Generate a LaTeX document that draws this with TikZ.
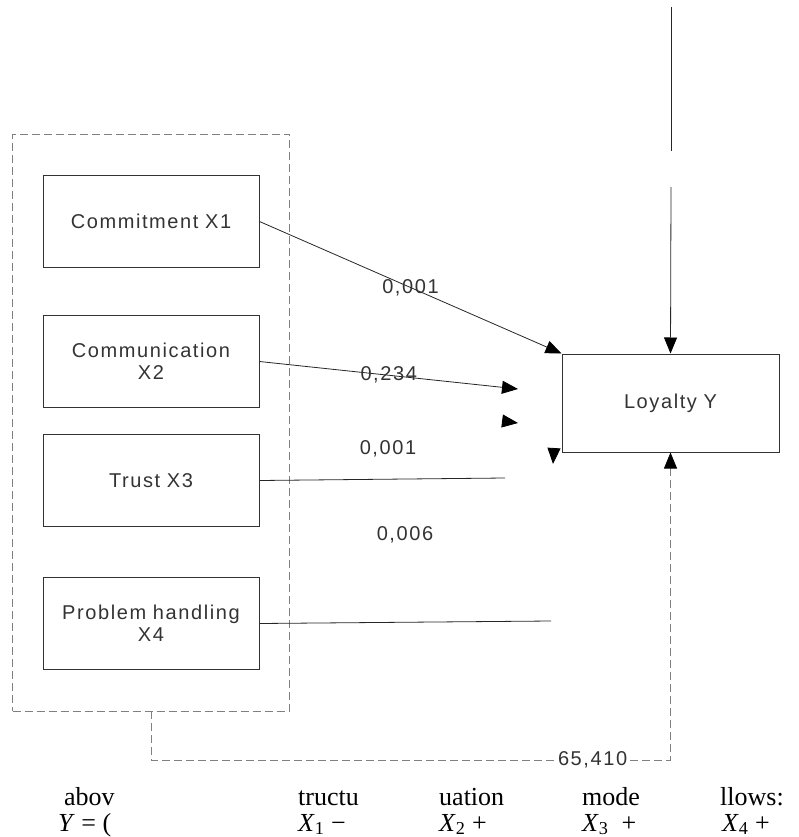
\documentclass[tikz,border=0pt]{standalone}
\usepackage{fontspec}
\setmainfont{Liberation Serif}
\newfontfamily\boxfont[LetterSpace=8]{Liberation Sans}
\usetikzlibrary{arrows.meta, positioning, fit, calc}

\begin{document}
\begin{tikzpicture}[x=1pt, y=-1pt,
    var/.style={draw=black!80, line width=1pt, minimum width=216pt, minimum height=92pt, text width=205pt, align=center, text=black!80, font=\boxfont\fontsize{20}{22}\selectfont},
    coef/.style={text=black!80, font=\boxfont\fontsize{20}{22}\selectfont, inner sep=1pt},
    link/.style={draw=black!85, line width=0.8pt},
    tip/.style={-{Triangle[length=16pt, width=13pt, black]}},
    grp/.style={draw=gray, dash pattern=on 8pt off 4pt, line width=0.8pt},
    frag/.style={font=\fontsize{26}{30}\selectfont, anchor=base west, inner sep=0pt}]
    \useasboundingbox (0,0) rectangle (799,837);

    % independent variables
    \node[var] (com) at (151,221.5) {Commitment X1};
    \node[var, below=47pt of com] (cmu) {Communication\\X2};
    \node[var, below=26pt of cmu] (tru) {Trust X3};
    \node[var, below=50pt of tru] (prb) {Problem handling\\X4};
    \node[grp, fit=(com)(prb), inner xsep=30pt, inner ysep=41pt] (grp) {};

    % dependent variable
    \node[var, minimum width=217pt, minimum height=98pt] (loy) at (670.5,403) {Loyalty Y};

    \coordinate (e2) at (518,389);
    \coordinate (h2a) at (502,421);
    \coordinate (h2b) at (518,423);
    \coordinate (e3) at (505,478);
    \coordinate (h3a) at (554,448);
    \coordinate (h3b) at (553,464);
    \coordinate (e4) at (551,621);
    \coordinate (v1) at (671,7);
    \coordinate (v2) at (671,151);
    \coordinate (v3) at (671,187);
    \coordinate (fb1) at (grp.south |- 0,760);
    \coordinate (fb2) at (loy.south |- 0,760);

    \draw[link, tip] (com.east) -- node[coef] {0,001} (loy.north west);
    \draw[link, tip] (cmu.east) -- node[coef] {0,234} (e2);
    \draw[link, tip] (h2a) -- (h2b);
    \draw[link] (tru.east) -- (e3);
    \node[coef] (c3) at (388,449) {0,001};
    \draw[link, tip] (h3a) -- (h3b);
    \draw[link] (prb.east) -- (e4);
    \node[coef] (c4) at (405,535) {0,006};
    \draw[link] (v1) -- (v2);
    \draw[link, tip] (v3) -- (loy.north);
    \draw[grp, tip] (grp.south) -- (fb1) -- node[coef, pos=.85, fill=white] {65,410} (fb2) -- (loy.south);

    % text below the figure
    \node[frag] (w1) at (64,805) {abov};
    \node[frag] (w2) at (298,805) {tructu};
    \node[frag] (w3) at (439,805) {uation};
    \node[frag] (w4) at (582,805) {mode};
    \node[frag] (w5) at (720,805) {llows:};
    \node[frag] (m1) at (58,831) {\textit{Y} = (};
    \node[frag] (m2) at (298,831) {\textit{X}\textsubscript{1} −};
    \node[frag] (m3) at (439,831) {\textit{X}\textsubscript{2} +};
    \node[frag] (m4) at (582,831) {\textit{X}\textsubscript{3} \ +};
    \node[frag] (m5) at (722,831) {\textit{X}\textsubscript{4} +};
\end{tikzpicture}
\end{document}
